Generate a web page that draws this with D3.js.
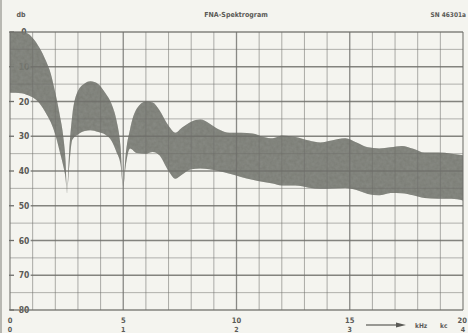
<!DOCTYPE html>
<html>
<head>
<meta charset="utf-8">
<script src="https://cdn.jsdelivr.net/npm/d3@7"></script>
<style>
  html, body { margin: 0; padding: 0; background: #f4f4ef; }
  svg { display: block; }
  text { font-family: "DejaVu Sans Condensed", "DejaVu Sans", sans-serif; font-weight: bold; fill: #5a5a56; }
</style>
</head>
<body>
<svg id="chart" width="468" height="333"></svg>
<script>
// ---- data ----
const freqKHz = [0, 0.5, 0.8, 1.0, 1.3, 1.6, 1.8, 2.0, 2.2, 2.35, 2.45, 2.52, 2.6, 2.75, 3.0, 3.3, 3.55, 3.9, 4.2, 4.5, 4.7, 4.88, 5.0, 5.1, 5.3, 5.6, 6.0, 6.3, 6.6, 7.0, 7.3, 7.6, 8.0, 8.4, 8.8, 9.2, 9.7, 10.2, 10.7, 11.2, 11.6, 12.0, 12.6, 13.2, 13.7, 14.2, 14.8, 15.3, 15.8, 16.3, 16.8, 17.3, 17.8, 18.3, 18.9, 19.5, 20];
const upperDb = [0, 0, 0.5, 1.7, 4.5, 8.5, 12, 17.5, 24, 30, 37, 46.5, 36, 24, 17, 14.8, 14.2, 15, 17.5, 21, 25.4, 33, 44.5, 36, 28, 22, 20, 20.3, 22.5, 27, 29, 27.5, 25.8, 25.2, 26.3, 28, 29, 29, 29.2, 30.2, 30.6, 29.8, 30.2, 31.2, 31.8, 31.2, 30.6, 31.8, 33.2, 33.5, 33.2, 32.8, 33.6, 34.7, 34.7, 35, 35.5];
const lowerDb = [17.5, 17.6, 18.2, 18.8, 20.5, 23.5, 26, 29.5, 34.5, 38.5, 42, 46.5, 40, 31, 29.5, 28.5, 28.3, 28.8, 29.5, 31.5, 34.5, 38, 44.5, 39, 33.5, 34.8, 35, 34.5, 35.5, 40, 42.2, 41, 39.5, 39.3, 39.5, 40, 40.8, 41.7, 42.5, 43.2, 43.6, 44.2, 44.2, 44.8, 45.1, 45, 44.9, 45.5, 46.6, 47, 46.3, 46.4, 47, 47.8, 48, 48, 48.5];

const yTickLabels = ["0", "10", "20", "30", "40", "50", "60", "70", "80"];
const yTickValues = [0, 10, 20, 30, 40, 50, 60, 70, 80];
const xTickValues = [0, 5, 10, 15, 20];
const xTickLabels = ["0", "5", "10", "15", "20"];
const xTickLabels2 = ["0", "1", "2", "3", "4"];
const titleText = "FNA-Spektrogram";
const unitText = "db";
const refText = "SN 46301a";

(function () {
// ---- layout ----
const svg = d3.select("#chart");
const pL = 10, pR = 463, pT = 32, pB = 310;
const x = d3.scaleLinear().domain([0, 20]).range([pL, pR]);
const y = d3.scaleLinear().domain([0, 80]).range([pT, pB]);

// grain filter for scanned look
const defs = svg.append("defs");
const f = defs.append("filter").attr("id", "grain").attr("x", 0).attr("y", 0).attr("width", 1).attr("height", 1);
f.append("feTurbulence").attr("type", "fractalNoise").attr("baseFrequency", 0.3).attr("numOctaves", 2).attr("seed", 3).attr("result", "n");
f.append("feColorMatrix").attr("in", "n").attr("type", "matrix")
  .attr("values", "0 0 0 0 0.33  0 0 0 0 0.34  0 0 0 0 0.32  0 0 0 -0.8 1.0").attr("result", "nc");
f.append("feComposite").attr("in", "nc").attr("in2", "SourceGraphic").attr("operator", "in");

// y tick marks + labels (under the band)
const yl = svg.append("g");
yl.selectAll("line").data(yTickValues).join("line")
  .attr("x1", pL - 1).attr("x2", pL + 4)
  .attr("y1", d => y(d)).attr("y2", d => y(d))
  .attr("stroke", "#6e6e6a").attr("stroke-width", 1.3);
yl.selectAll("text").data(yTickValues).join("text")
  .attr("x", pL + 14).attr("y", d => y(d) + 3)
  .attr("text-anchor", "middle").attr("font-size", 8.5)
  .text((d, i) => yTickLabels[i]);

// band
const area = d3.area()
  .x((d, i) => x(freqKHz[i]))
  .y0((d, i) => y(upperDb[i]))
  .y1((d, i) => y(lowerDb[i]))
  .curve(d3.curveMonotoneX);
svg.append("path").datum(freqKHz).attr("d", area)
  .attr("fill", "#64665f").attr("opacity", 0.88);
svg.append("path").datum(freqKHz).attr("d", area)
  .attr("filter", "url(#grain)").attr("fill", "#000").attr("opacity", 0.5);

// grid
const g = svg.append("g");
const minorV = d3.range(0, 21, 1);
g.selectAll("line.v").data(minorV).join("line")
  .attr("x1", d => x(d)).attr("x2", d => x(d))
  .attr("y1", pT).attr("y2", pB)
  .attr("stroke", "#6e6e6a").attr("stroke-opacity", d => d % 5 === 0 ? 0.8 : 0.55)
  .attr("stroke-width", d => d % 5 === 0 ? 1.3 : 1);
const minorH = d3.range(0, 81, 5);
g.selectAll("line.h").data(minorH).join("line")
  .attr("x1", d => d % 10 === 0 && d > 0 && d < 80 ? x(1) - 2 : pL)
  .attr("x2", pR)
  .attr("y1", d => y(d)).attr("y2", d => y(d))
  .attr("stroke", "#6e6e6a").attr("stroke-opacity", d => d % 10 === 0 ? 0.85 : 0.5)
  .attr("stroke-width", d => d % 10 === 0 ? 1.5 : 1);

// x labels
const xl = svg.append("g");
xl.selectAll("text.a").data(xTickValues).join("text")
  .attr("class", "a")
  .attr("x", d => x(d)).attr("y", 323)
  .attr("text-anchor", d => d === 20 ? "end" : "middle").attr("dx", d => d === 20 ? 4 : 0)
  .attr("font-size", 7.5)
  .text((d, i) => xTickLabels[i]);
xl.selectAll("text.b").data(xTickValues).join("text")
  .attr("class", "b")
  .attr("x", d => x(d)).attr("y", 332)
  .attr("text-anchor", "middle").attr("font-size", 7)
  .text((d, i) => xTickLabels2[i]);

// arrow + units
svg.append("line").attr("x1", 366).attr("x2", 398).attr("y1", 325).attr("y2", 325)
  .attr("stroke", "#5a5a56").attr("stroke-width", 1.2);
svg.append("path").attr("d", "M396,322.5 L406,325 L396,327.5 Z").attr("fill", "#5a5a56");
svg.append("text").attr("x", 415).attr("y", 327.5).attr("font-size", 6.5).text("kHz");
svg.append("text").attr("x", 440).attr("y", 327.5).attr("font-size", 6.5).text("kc");

// header
svg.append("text").attr("x", 236).attr("y", 16.5).attr("text-anchor", "middle").attr("font-size", 7).text(titleText);
svg.append("text").attr("x", 21).attr("y", 16.5).attr("text-anchor", "middle").attr("font-size", 7).text(unitText);
svg.append("text").attr("x", 466).attr("y", 16.5).attr("text-anchor", "end").attr("font-size", 6.5).text(refText);

// scan edge
svg.append("rect").attr("x", 0).attr("y", 0).attr("width", 2).attr("height", 333).attr("fill", "#b8b8b2");
})();
</script>
</body>
</html>
